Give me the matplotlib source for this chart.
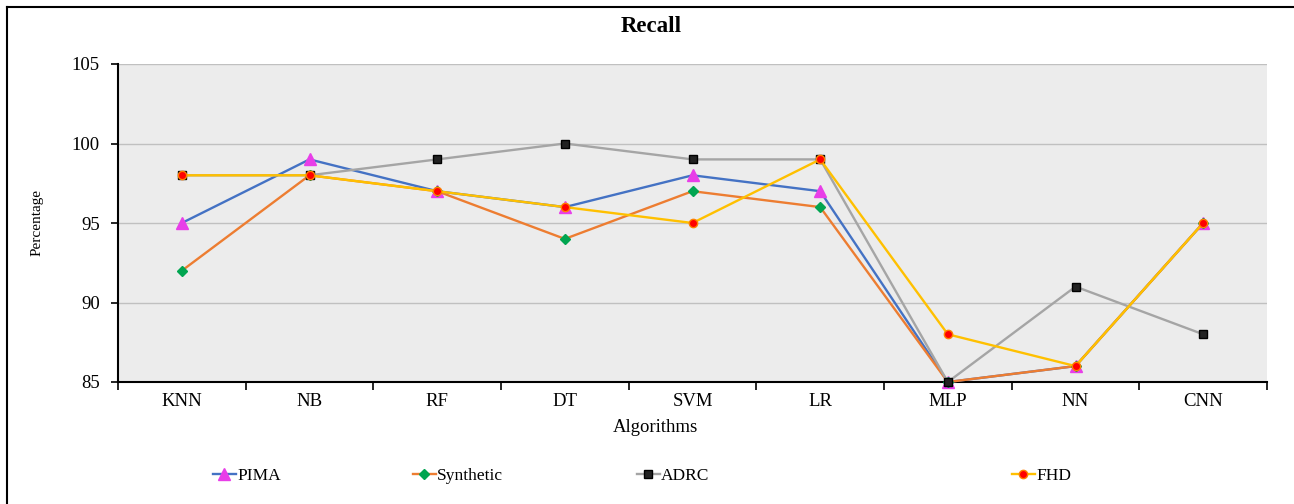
import matplotlib
matplotlib.use("Agg")
import matplotlib.pyplot as plt
from matplotlib.lines import Line2D

categories = ["KNN", "NB", "RF", "DT", "SVM", "LR", "MLP", "NN", "CNN"]
pima = [95, 99, 97, 96, 98, 97, 85, 86, 95]
synthetic = [92, 98, 97, 94, 97, 96, 85, 86, 95]
adrc = [98, 98, 99, 100, 99, 99, 85, 91, 88]
fhd = [98, 98, 97, 96, 95, 99, 88, 86, 95]
series_names = ["PIMA", "Synthetic", "ADRC", "FHD"]
yticks = [85, 90, 95, 100, 105]

plt.rcParams['font.family'] = ['Liberation Serif', 'DejaVu Serif']

W, H = 1294, 504
fig = plt.figure(figsize=(W / 100, H / 100), dpi=100)
ax = fig.add_axes([118 / W, 1 - 382 / H, (1267 - 118) / W, (382 - 64) / H])
ax.set_facecolor('#ececec')

x = list(range(len(categories)))
styles = [
    dict(color='#4472c4', marker='^', markerfacecolor='#e83ee8', markeredgecolor='#e83ee8', markersize=9),
    dict(color='#ed7d31', marker='D', markerfacecolor='#00a550', markeredgecolor='#00a550', markersize=5.5),
    dict(color='#a5a5a5', marker='s', markerfacecolor='#222222', markeredgecolor='#000000', markersize=5.5),
    dict(color='#ffc000', marker='o', markerfacecolor='#ff0000', markeredgecolor='#ff8000', markersize=6),
]
handles = []
for i, (vals, name, st) in enumerate(zip([pima, synthetic, adrc, fhd], series_names, styles)):
    ln, = ax.plot(x, vals, linewidth=1.7, label=name, zorder=3 + i, clip_on=False, **st)
    handles.append(ln)

ax.set_xlim(-0.5, len(categories) - 0.5)
ax.set_ylim(85, 105)
ax.set_yticks(yticks)
ax.set_yticklabels([str(v) for v in yticks], fontsize=13.5)
ax.set_xticks(x)
ax.set_xticklabels(categories, fontsize=13.5)
ax.tick_params(axis='x', which='major', length=0, pad=8)
ax.set_xticks([i - 0.5 for i in range(len(categories) + 1)], minor=True)
ax.tick_params(axis='x', which='minor', length=6, width=1.2, direction='out', color='black')
ax.tick_params(axis='y', length=5, width=1.2, direction='out', pad=8)
ax.grid(axis='y', color='#c0c0c0', linewidth=1.0, zorder=1)
ax.set_axisbelow(True)
for s in ['top', 'right']:
    ax.spines[s].set_visible(False)
for s in ['left', 'bottom']:
    ax.spines[s].set_linewidth(1.5)
    ax.spines[s].set_color('black')

fig.text(651 / W, 1 - 26 / H, "Recall", ha='center', va='center', fontsize=16.5, fontweight='bold')
fig.text(37 / W, 1 - 222 / H, "Percentage", ha='center', va='center', rotation=90, fontsize=11)
fig.text(655 / W, 1 - 428 / H, "Algorithms", ha='center', va='center', fontsize=13.5)

leg_x = [213, 413, 637, 1012]
for h, lx in zip(handles, leg_x):
    fig.legend(handles=[h], loc='center left', bbox_to_anchor=(lx / W, 1 - 476 / H),
               frameon=False, fontsize=12.5, handlelength=1.3, handletextpad=0.1,
               borderpad=0, borderaxespad=0)

fig.add_artist(Line2D([7 / W, 7 / W], [0, 1 - 7 / H], color='black', linewidth=1.5, transform=fig.transFigure))
fig.add_artist(Line2D([7 / W, 1], [1 - 7 / H, 1 - 7 / H], color='black', linewidth=1.5, transform=fig.transFigure))

fig.savefig("out.png", dpi=100)
